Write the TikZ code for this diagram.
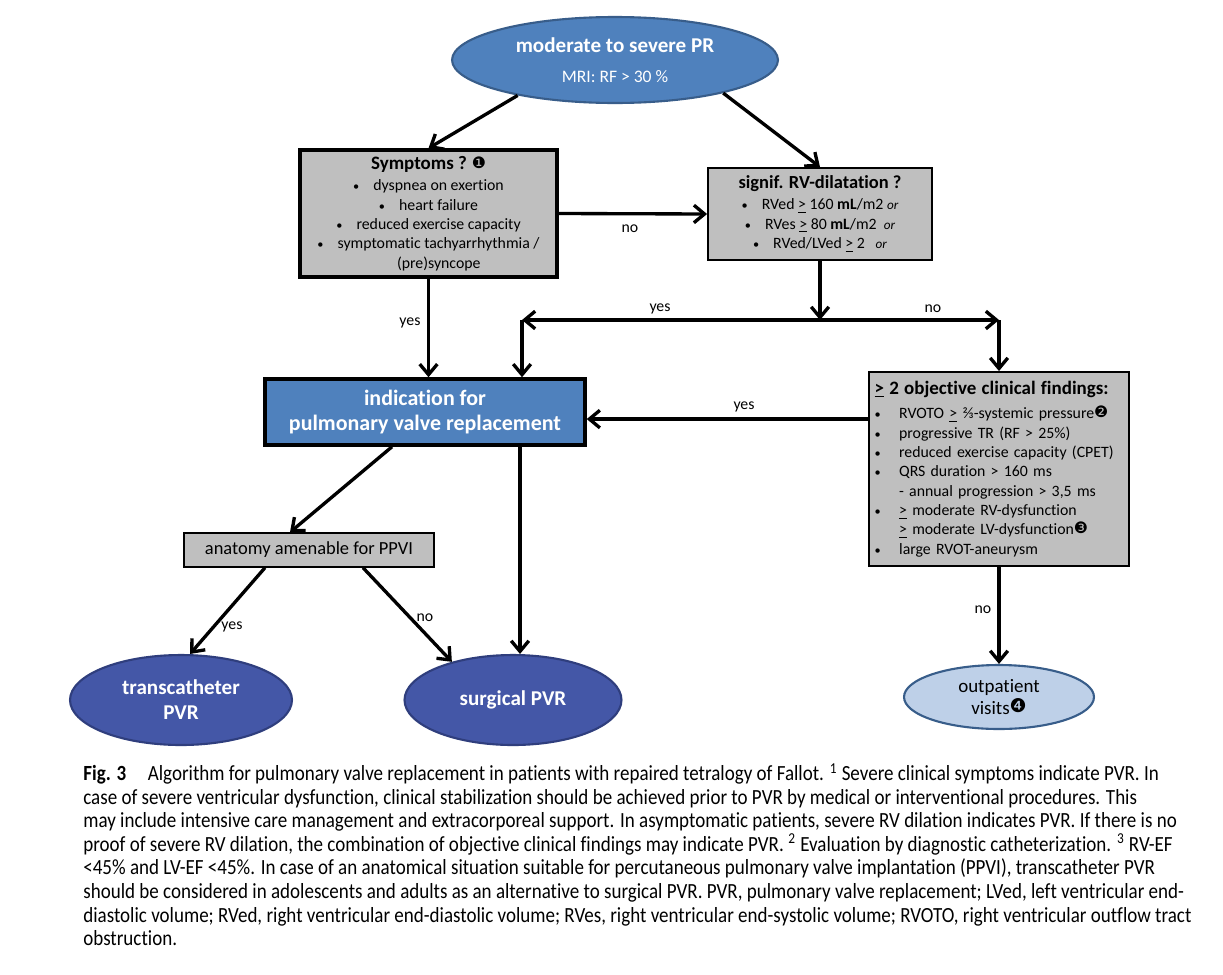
\documentclass[tikz,border=0pt]{standalone}
\usepackage{fontspec}
\setmainfont{Carlito}[Ligatures=NoCommon]
\newfontfamily\dingfont{DejaVu Sans}
\newfontfamily\capfont[FakeStretch=0.88,Ligatures=NoCommon]{Carlito}
\usetikzlibrary{arrows.meta,shapes.geometric,calc}

\definecolor{pvrblue}{RGB}{79,129,189}
\definecolor{pvrblueline}{RGB}{56,93,138}
\definecolor{pvrgrey}{RGB}{191,191,191}
\definecolor{pvrdark}{RGB}{68,87,167}
\definecolor{pvrdarkline}{RGB}{47,62,125}
\definecolor{pvrlight}{RGB}{190,208,232}

\newcommand{\circnum}[1]{{\dingfont\raisebox{0.2ex}{#1}}}
\newcommand{\uge}{\underline{>}}
\newcommand{\smallor}{{\fontsize{7.5}{9}\selectfont\itshape or}}
\newcommand{\dotb}{{\fontsize{7}{9}\selectfont\textbullet}}
\newcommand{\bul}{\dotb\hspace{8pt}}

\begin{document}
\begin{tikzpicture}[
x=0.02cm,
y=-0.02cm,
>={Straight Barb[length=6pt,width=10pt]},
flow/.style={->,line width=1.9pt},
grey box/.style={rectangle,
                 fill=pvrgrey,
                 draw=black,
                 align=center,
                 inner sep=0pt,
                 font=\fontsize{9}{11}\selectfont},
blue box/.style={rectangle,
                 fill=pvrblue,
                 draw=black,
                 line width=2pt,
                 align=center,
                 text=white,
                 font=\fontsize{12.5}{14.7}\selectfont\bfseries},
top oval/.style={ellipse,
                 fill=pvrblue,
                 draw=pvrblueline,
                 line width=1.2pt,
                 align=center,
                 text=white,
                 inner sep=0pt},
end oval/.style={ellipse,
                 fill=pvrdark,
                 draw=pvrdarkline,
                 line width=1.2pt,
                 align=center,
                 text=white,
                 inner sep=0pt,
                 font=\fontsize{12}{14.2}\selectfont\bfseries},
light oval/.style={ellipse,
                 fill=pvrlight,
                 draw=pvrblueline,
                 line width=1.2pt,
                 align=center,
                 inner sep=0pt,
                 font=\fontsize{10.8}{12.5}\selectfont},
edge text/.style={font=\fontsize{9}{11}\selectfont, inner sep=1pt}]

\fill[white] (0,0) rectangle (1223,974);
\useasboundingbox (0,0) rectangle (1223,974);

%top
  \node[top oval, minimum width=6.52cm, minimum height=1.72cm] (pr) at (615,60)
    {{\fontsize{12}{14}\selectfont\bfseries moderate to severe PR}\\[5pt]
     {\fontsize{10}{12}\selectfont MRI: RF > 30 \%}};
%symptoms
  \node[grey box, line width=2pt, minimum width=5.14cm, minimum height=2.54cm] (symp) at (428.5,213.5)
    {{\fontsize{10.8}{12}\selectfont\bfseries Symptoms ?} \circnum{❶}\\[1pt]
     \bul dyspnea on exertion\\
     \bul heart failure\\
     \bul reduced exercise capacity\\
     \bul symptomatic tachyarrhythmia /\\
     \hspace*{1.3em}(pre)syncope};
%rv dilatation
  \node[grey box, line width=1.1pt, minimum width=4.48cm, minimum height=1.84cm] (rv) at (820,214)
    {{\fontsize{10.5}{12}\selectfont\bfseries signif. RV-dilatation ?}\\[1pt]
     \bul RVed \uge\ 160 \textbf{mL}/m2 \smallor\\
     \bul RVes \uge\ 80 \textbf{mL}/m2 \ \smallor\\
     \bul RVed/LVed \uge\ 2 \ \ \smallor};
%indication
  \node[blue box, minimum width=6.4cm, minimum height=1.32cm] (ind) at (425,412)
    {indication for\\ pulmonary valve replacement};
%findings
  \node[grey box, line width=1.1pt, minimum width=5.2cm, minimum height=3.88cm,
        text width=4.98cm, align=left] (find) at (999,469)
    {{\fontsize{10.8}{12}\selectfont\bfseries \uge\ 2 objective clinical findings:}\\[3pt]
     \makebox[14pt][l]{\dotb}RVOTO \uge\ ⅔-systemic pressure\circnum{❷}\\
     \makebox[14pt][l]{\dotb}progressive TR (RF > 25\%)\\
     \makebox[14pt][l]{\dotb}reduced exercise capacity (CPET)\\
     \makebox[14pt][l]{\dotb}QRS duration > 160 ms\\
     \hspace*{14pt}- annual progression > 3,5 ms\\
     \makebox[14pt][l]{\dotb}\uge\ moderate RV-dysfunction\\
     \hspace*{14pt}\uge\ moderate LV-dysfunction\circnum{❸}\\
     \makebox[14pt][l]{\dotb}large RVOT-aneurysm};
%anatomy
  \node[grey box, line width=0.8pt, minimum width=5cm, minimum height=0.68cm,
        font=\fontsize{10.5}{12}\selectfont] (anat) at (309,550) {anatomy amenable for PPVI};
%end points
  \node[end oval, minimum width=4.44cm, minimum height=1.8cm] (trans) at (181,700) {transcatheter\\ PVR};
  \node[end oval, minimum width=4.34cm, minimum height=1.8cm] (surg) at (513,700) {surgical PVR};
  \node[light oval, minimum width=3.8cm, minimum height=1.28cm] (outp) at (999,697) {outpatient\\ visits\circnum{❹}};

%paths
  \coordinate (split) at (rv.south |- 0,320);
  \coordinate (yesend) at (522,320);
  \coordinate (noend) at (find.north |- split);
  \coordinate (fy) at ($(find.north west)+(0,48)$);
  \coordinate (sv) at ($(ind.south)+(95,0)$);

  \draw[flow] (pr.200) -- (symp.north);
  \draw[flow] (pr.343) -- (rv.north);
  \draw[flow] (symp.east) -- (rv.west);
  \draw[flow] (symp.south) -- (symp.south |- ind.north);
  \draw[flow] (rv.south) -- (split);
  \draw[flow, <->] (yesend) -- (noend);
  \draw[flow] (yesend) -- (yesend |- ind.north);
  \draw[flow] (noend) -- (find.north);
  \draw[flow] (fy) -- (fy -| ind.east);
  \draw[flow] (find.south) -- (outp.north);
  \draw[flow] ($(ind.south)+(-33,0)$) -- ($(anat.north)+(-19,0)$);
  \draw[flow] (sv) -- (sv |- surg.north);
  \draw[flow] ($(anat.south)+(-44,0)$) -- ($(trans.north)+(9,0)$);
  \draw[flow] ($(anat.south)+(54,0)$) -- (surg.148);

%labels
  \node[edge text] (nosymp) at (630,229) {no};
  \node[edge text] (yessymp) at (410,323) {yes};
  \node[edge text] (yesrv) at (660,309) {yes};
  \node[edge text] (norv) at (933,309) {no};
  \node[edge text] (yesfind) at (744,407) {yes};
  \node[edge text] (nofind) at (983,610) {no};
  \node[edge text] (yesanat) at (232,627) {yes};
  \node[edge text] (noanat) at (425,618) {no};

%caption
  \node[anchor=north west, align=left, inner sep=0pt,
        font=\capfont\fontsize{12.3}{13.4}\selectfont] (caption) at (83,763)
    {\textbf{Fig. 3}\quad Algorithm for pulmonary valve replacement in patients with repaired tetralogy of Fallot. \textsuperscript{1} Severe clinical symptoms indicate PVR. In\\
     case of severe ventricular dysfunction, clinical stabilization should be achieved prior to PVR by medical or interventional procedures. This\\
     may include intensive care management and extracorporeal support. In asymptomatic patients, severe RV dilation indicates PVR. If there is no\\
     proof of severe RV dilation, the combination of objective clinical findings may indicate PVR. \textsuperscript{2} Evaluation by diagnostic catheterization. \textsuperscript{3} RV-EF\\
     <45\% and LV-EF <45\%. In case of an anatomical situation suitable for percutaneous pulmonary valve implantation (PPVI), transcatheter PVR\\
     should be considered in adolescents and adults as an alternative to surgical PVR. PVR, pulmonary valve replacement; LVed, left ventricular end-\\
     diastolic volume; RVed, right ventricular end-diastolic volume; RVes, right ventricular end-systolic volume; RVOTO, right ventricular outflow tract\\
     obstruction.};
\end{tikzpicture}
\end{document}
